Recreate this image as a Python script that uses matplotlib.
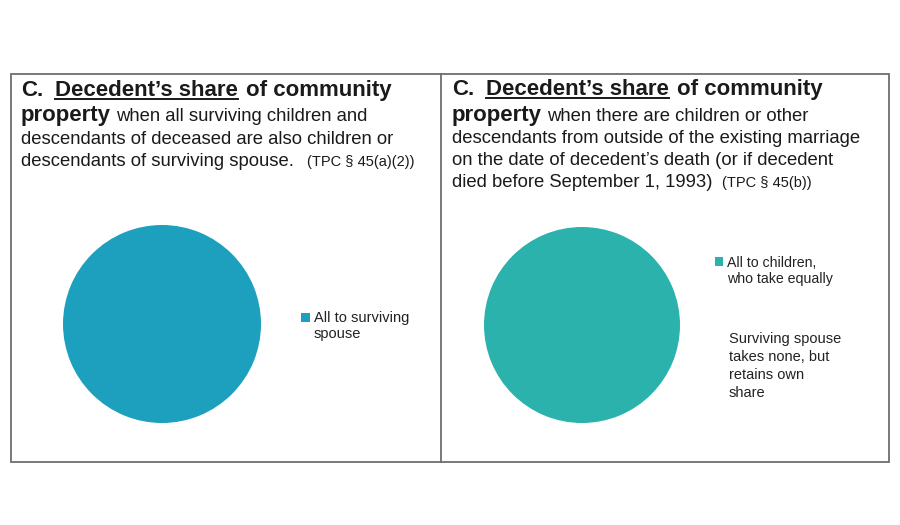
import matplotlib.pyplot as plt
from matplotlib.lines import Line2D
from matplotlib.patches import Rectangle

# pie data
left_labels = ["All to surviving\nspouse"]
left_values = [100]
left_colors = ["#1DA0BD"]

right_labels = ["All to children,\nwho take equally"]
right_values = [100]
right_colors = ["#2BB2AD"]

right_note = "Surviving spouse\ntakes none, but\nretains own\nshare"

FONT = "Liberation Sans"
W, H = 900, 525

fig = plt.figure(figsize=(9, 5.25), dpi=100)
renderer = fig.canvas.get_renderer()


def fx(px):
    return px / W


def fy(py):
    return 1 - py / H


def write_line(x, y, runs):
    """runs: list of (text, size, weight, underline, gap_before_px)"""
    cur = x
    for text, size, weight, underline, gap in runs:
        cur += gap
        t = fig.text(fx(cur), fy(y), text, fontsize=size, fontweight=weight,
                     family=FONT, color="#1a1a1a", va="baseline", ha="left")
        bb = t.get_window_extent(renderer)
        if underline:
            fig.add_artist(Line2D([fx(cur), fx(cur + bb.width)],
                                  [fy(y + 3), fy(y + 3)],
                                  color="#1a1a1a", lw=1.4,
                                  transform=fig.transFigure))
        cur += bb.width


TS, BS, SS = 16.0, 13.3, 10.5
title_line = [("C.", TS, "bold", False, 0),
              ("Decedent\u2019s share", TS, "bold", True, 12),
              ("of community", TS, "bold", False, 8)]

# left panel text
lx = 21
write_line(lx, 96, title_line)
write_line(lx, 121, [("property", TS, "bold", False, 0),
                     ("when all surviving children and", BS, "normal", False, 5)])
write_line(lx, 144, [("descendants of deceased are also children or", BS, "normal", False, 0)])
write_line(lx, 166, [("descendants of surviving spouse.", BS, "normal", False, 0),
                     ("(TPC \u00a7 45(a)(2))", SS, "normal", False, 13)])

# right panel text
rx = 452
write_line(rx, 95, title_line)
write_line(rx, 121, [("property", TS, "bold", False, 0),
                     ("when there are children or other", BS, "normal", False, 5)])
write_line(rx, 143, [("descendants from outside of the existing marriage", BS, "normal", False, 0)])
write_line(rx, 165, [("on the date of decedent\u2019s death (or if decedent", BS, "normal", False, 0)])
write_line(rx, 187, [("died before September 1, 1993)", BS, "normal", False, 0),
                     ("(TPC \u00a7 45(b))", SS, "normal", False, 9)])

# frame and divider
fig.add_artist(Rectangle((fx(11), fy(462)), fx(878), 388 / H, fill=False,
                         edgecolor="#6e6e6e", lw=1.3, transform=fig.transFigure))
fig.add_artist(Line2D([fx(441), fx(441)], [fy(74), fy(462)], color="#6e6e6e",
                      lw=1.3, transform=fig.transFigure))


def pie_axes(cx, cy, r):
    ax = fig.add_axes([fx(cx - r), fy(cy + r), 2 * r / W, 2 * r / H])
    ax.axis("off")
    return ax


def top_align_handle(leg, shift_pt):
    # square sits beside the first label line, not the middle of both lines
    for h in leg.legend_handles:
        h.set_y(h.get_y() + shift_pt)


ax1 = pie_axes(162, 324, 99)
w1, _ = ax1.pie(left_values, colors=left_colors, radius=1, startangle=90,
                wedgeprops=dict(linewidth=0))
ax1.set_xlim(-1, 1)
ax1.set_ylim(-1, 1)
leg1 = ax1.legend(w1, left_labels, loc="upper left", bbox_to_anchor=(fx(288), fy(298)),
                  bbox_transform=fig.transFigure, frameon=False, handlelength=0.6,
                  handleheight=0.6, handletextpad=0.25, labelspacing=0.2,
                  prop=dict(family=FONT, size=10.5), labelcolor="#222222")
top_align_handle(leg1, 6.8)

ax2 = pie_axes(582, 325, 98)
w2, _ = ax2.pie(right_values, colors=right_colors, radius=1, startangle=90,
                wedgeprops=dict(linewidth=0))
ax2.set_xlim(-1, 1)
ax2.set_ylim(-1, 1)
leg2 = ax2.legend(w2, right_labels, loc="upper left", bbox_to_anchor=(fx(702), fy(243)),
                  bbox_transform=fig.transFigure, frameon=False, handlelength=0.6,
                  handleheight=0.6, handletextpad=0.25, labelspacing=0.2,
                  prop=dict(family=FONT, size=10.2), labelcolor="#222222")
top_align_handle(leg2, 7.0)

fig.text(fx(729), fy(332), right_note, family=FONT, fontsize=10.5, color="#222222",
         va="top", ha="left", linespacing=1.36)

fig.savefig("out.png", dpi=100)
